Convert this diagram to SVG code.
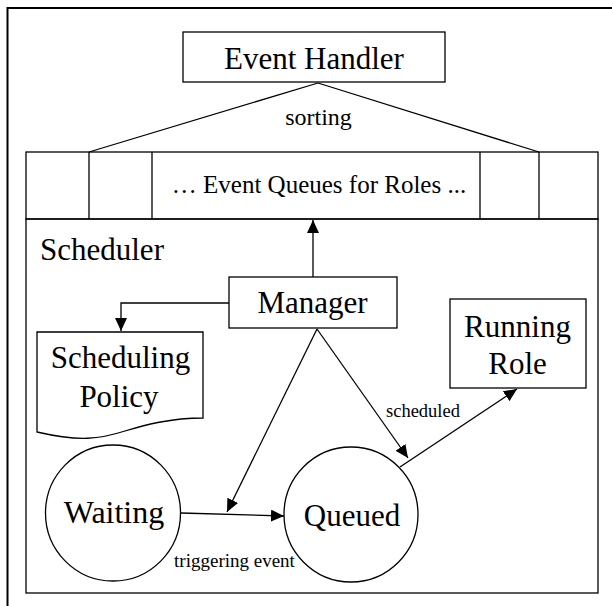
<svg xmlns="http://www.w3.org/2000/svg" width="612" height="606" viewBox="0 0 612 606">
<defs>
<style>
text{font-family:"Times New Roman","Liberation Serif",Times,serif;fill:#000}
.s{fill:none;stroke:#000;stroke-width:1.3}
.b{fill:#fff;stroke:#000;stroke-width:1.3}
.t{text-anchor:middle}
.L{font-size:31px}
.m{font-size:19px}
</style>
<marker id="ah" markerWidth="13" markerHeight="12" viewBox="0 0 13 12" refX="13" refY="6" orient="auto" markerUnits="userSpaceOnUse">
<path d="M0,0 L13,6 L0,12 Z" fill="#000"/>
</marker>
</defs>
<rect x="0" y="0" width="612" height="606" fill="#fff"/>
<path d="M7.5,606 V8 H612" fill="none" stroke="#000" stroke-width="2"/>
<g id="event-handler">
<rect x="183" y="32" width="262" height="50" class="b"/>
<text x="314" y="69" class="t L">Event Handler</text>
</g>
<g id="queues">
<rect x="26" y="152" width="572" height="67" class="b"/>
<line x1="89" y1="152" x2="89" y2="219" class="s" stroke-width="2"/>
<line x1="152" y1="152" x2="152" y2="219" class="s" stroke="#444"/>
<line x1="480" y1="152" x2="480" y2="219" class="s"/>
<line x1="539" y1="152" x2="539" y2="219" class="s" stroke="#444"/>
<text x="319" y="193" class="t" font-size="25">… Event Queues for Roles ...</text>
</g>
<g id="scheduler">
<rect x="26" y="219" width="572" height="374" class="s"/>
<text x="40" y="260" font-size="31">Scheduler</text>
</g>
<g id="manager">
<rect x="229" y="277" width="168" height="51" class="b"/>
<text x="312.5" y="313" class="t L">Manager</text>
</g>
<g id="scheduling-policy">
<path d="M37,332 H203 V418 C170,418 145,425 125,431 C100,439 80,442 37,432 Z" class="b"/>
<text x="120.5" y="368" class="t L">Scheduling</text>
<text x="119" y="407" class="t L">Policy</text>
</g>
<g id="running-role">
<rect x="450" y="299" width="136" height="89" class="b"/>
<text x="517.5" y="337" class="t L">Running</text>
<text x="517.5" y="374" class="t L">Role</text>
</g>
<g id="waiting">
<ellipse cx="113" cy="513" rx="67.5" ry="68" class="b"/>
<text x="114" y="523" class="t" font-size="32">Waiting</text>
</g>
<g id="queued">
<ellipse cx="351" cy="514.5" rx="67" ry="67.5" class="b"/>
<text x="352" y="526" class="t L">Queued</text>
</g>
<g id="connectors">
<line x1="318" y1="83" x2="89" y2="152" class="s"/>
<line x1="318" y1="83" x2="539" y2="152" class="s"/>
<text x="318.5" y="125" class="t" font-size="24">sorting</text>
<line x1="313" y1="277" x2="313" y2="220" class="s" marker-end="url(#ah)"/>
<polyline points="229,303 121,303 121,331" class="s" marker-end="url(#ah)"/>
<line x1="317" y1="329" x2="227" y2="512" class="s" marker-end="url(#ah)"/>
<line x1="317" y1="329" x2="408" y2="458" class="s" marker-end="url(#ah)"/>
<line x1="400" y1="467" x2="517" y2="389" class="s" marker-end="url(#ah)"/>
<text x="423" y="417" class="t" font-size="18.5">scheduled</text>
<line x1="181" y1="513" x2="284" y2="516" class="s" marker-end="url(#ah)"/>
<text x="234.5" y="567" class="t m">triggering event</text>
</g>
</svg>
